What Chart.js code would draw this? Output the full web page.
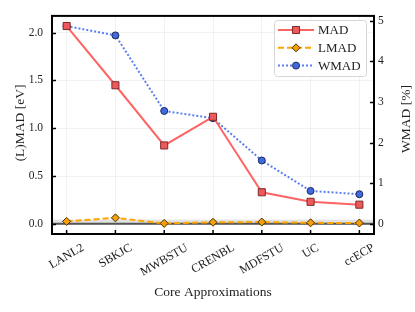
<!DOCTYPE html>
<html>
<head>
<meta charset="utf-8">
<script src="https://cdn.jsdelivr.net/npm/chart.js@4/dist/chart.umd.min.js"></script>
<style>
html, body { margin: 0; padding: 0; background: #fff; }
#wrap { width: 415px; height: 312px; }
</style>
</head>
<body>
<div id="wrap"><canvas id="chart" width="415" height="312"></canvas></div>
<script>
// Dati
const categories = ['LANL2', 'SBKJC', 'MWBSTU', 'CRENBL', 'MDFSTU', 'UC', 'ccECP'];
const madValues = [2.07, 1.45, 0.82, 1.12, 0.33, 0.23, 0.20];
const lmadValues = [0.025, 0.062, 0.004, 0.016, 0.018, 0.010, 0.008];
const wmadValues = [4.87, 4.64, 2.78, 2.60, 1.56, 0.81, 0.73];
const leftTicks = [0.0, 0.5, 1.0, 1.5, 2.0];
const rightTicks = [0, 1, 2, 3, 4, 5];
const chemAccBand = [0, 0.0434];

const FONT = '"Liberation Serif", "DejaVu Serif", serif';
const TICK_SIZE = 11.5;
const XTICK_SIZE = 12;
const TITLE_SIZE = 13.5;
const LEGEND_SIZE = 13;

Chart.defaults.font.family = FONT;
Chart.defaults.font.size = TICK_SIZE;
Chart.defaults.color = '#222';

const toXY = (arr) => arr.map((v, i) => ({ x: i, y: v }));

// Disegno cornice, tacche interne, banda, etichette e legenda
const decorPlugin = {
    id: 'decor',
    beforeDatasetsDraw(chart) {
        const { ctx, chartArea: a, scales } = chart;
        const y = scales.y;
        ctx.save();
        ctx.fillStyle = 'rgba(200,200,200,0.55)';
        const yTop = y.getPixelForValue(chemAccBand[1]);
        const yBot = y.getPixelForValue(chemAccBand[0]);
        ctx.fillRect(a.left, yTop, a.right - a.left, yBot - yTop + 1);
        ctx.strokeStyle = '#555';
        ctx.lineWidth = 2;
        ctx.beginPath();
        ctx.moveTo(a.left, yBot);
        ctx.lineTo(a.right, yBot);
        ctx.stroke();
        ctx.restore();
    },
    afterDraw(chart) {
        const { ctx, chartArea: a, scales } = chart;
        ctx.save();
        // tacche
        ctx.strokeStyle = '#000';
        ctx.lineWidth = 1.5;
        ctx.beginPath();
        leftTicks.forEach(v => {
            const p = Math.round(scales.y.getPixelForValue(v)) + 0.5;
            ctx.moveTo(a.left, p); ctx.lineTo(a.left + 4, p);
        });
        rightTicks.forEach(v => {
            const p = Math.round(scales.y1.getPixelForValue(v)) + 0.5;
            ctx.moveTo(a.right, p); ctx.lineTo(a.right - 4, p);
        });
        categories.forEach((c, i) => {
            const p = scales.x.getPixelForValue(i);
            ctx.moveTo(p, a.bottom); ctx.lineTo(p, a.bottom - 4);
        });
        ctx.stroke();
        // cornice
        ctx.lineWidth = 2;
        ctx.strokeRect(a.left, a.top, a.right - a.left, a.bottom - a.top);

        // etichette asse x ruotate
        ctx.fillStyle = '#222';
        ctx.font = `${XTICK_SIZE}px ${FONT}`;
        ctx.textAlign = 'center';
        ctx.textBaseline = 'middle';
        const ang = 30 * Math.PI / 180;
        categories.forEach((c, i) => {
            const w = ctx.measureText(c).width;
            const h = 9;
            const bh = w * Math.sin(ang) + h * Math.cos(ang);
            const px = scales.x.getPixelForValue(i);
            ctx.save();
            ctx.translate(px, a.bottom + 9 + bh / 2);
            ctx.rotate(-ang);
            ctx.fillText(c, 0, 0);
            ctx.restore();
        });

        // titoli assi
        ctx.font = `${TITLE_SIZE}px ${FONT}`;
        ctx.fillText('Core Approximations', (a.left + a.right) / 2, 292);
        const midY = (a.top + a.bottom) / 2;
        ctx.save();
        ctx.translate(20, midY - 2);
        ctx.rotate(-Math.PI / 2);
        ctx.fillText('(L)MAD [eV]', 0, 0);
        ctx.restore();
        ctx.save();
        ctx.translate(406, midY - 6);
        ctx.rotate(-Math.PI / 2);
        ctx.fillText('WMAD [%]', 0, 0);
        ctx.restore();

        // legenda
        ctx.font = `${LEGEND_SIZE}px ${FONT}`;
        const lx = 274.5, ly = 20.5, lw = 92, lh = 56;
        ctx.fillStyle = 'rgba(255,255,255,0.85)';
        ctx.strokeStyle = '#d6d6d6';
        ctx.lineWidth = 1;
        ctx.beginPath();
        ctx.roundRect(lx, ly, lw, lh, 3);
        ctx.fill();
        ctx.stroke();
        chart.data.datasets.forEach((ds, i) => {
            const ry = 30 + i * 17.8;
            ctx.save();
            ctx.strokeStyle = ds.borderColor;
            ctx.lineWidth = ds.borderWidth;
            ctx.setLineDash(ds.borderDash || []);
            ctx.beginPath();
            ctx.moveTo(278, ry); ctx.lineTo(314, ry);
            ctx.stroke();
            ctx.setLineDash([]);
            ctx.fillStyle = ds.pointBackgroundColor;
            ctx.strokeStyle = ds.pointBorderColor;
            ctx.lineWidth = ds.pointBorderWidth;
            Chart.helpers.drawPoint(ctx, {
                pointStyle: ds.pointStyle, radius: ds.pointRadius,
                borderWidth: ds.pointBorderWidth, rotation: 0
            }, 296, ry);
            ctx.restore();
            ctx.fillStyle = '#222';
            ctx.textAlign = 'left';
            ctx.fillText(ds.label, 318, ry + 0.5);
        });
        ctx.restore();
    }
};

const ctx = document.getElementById('chart').getContext('2d');
new Chart(ctx, {
    type: 'line',
    data: {
        datasets: [{
            label: 'MAD',
            data: toXY(madValues),
            yAxisID: 'y',
            borderColor: '#ff6464',
            borderWidth: 2,
            pointStyle: 'rect',
            pointRadius: 5,
            pointBackgroundColor: '#f0595b',
            pointBorderColor: '#7a2a2a',
            pointBorderWidth: 1
        }, {
            label: 'LMAD',
            data: toXY(lmadValues),
            yAxisID: 'y',
            borderColor: '#ffa500',
            borderWidth: 2,
            borderDash: [6, 3],
            pointStyle: 'rectRot',
            pointRadius: 4,
            pointBackgroundColor: '#f5a00a',
            pointBorderColor: '#4a3000',
            pointBorderWidth: 1
        }, {
            label: 'WMAD',
            data: toXY(wmadValues),
            yAxisID: 'y1',
            borderColor: '#5b7ff2',
            borderWidth: 2,
            borderDash: [2, 2],
            pointStyle: 'circle',
            pointRadius: 3.5,
            pointBackgroundColor: '#4169e1',
            pointBorderColor: '#1a2a5a',
            pointBorderWidth: 1
        }]
    },
    options: {
        responsive: false,
        animation: false,
        devicePixelRatio: 1,
        layout: { padding: { top: 14, left: 0, right: 0, bottom: 0 } },
        plugins: { legend: { display: false }, tooltip: { enabled: false } },
        elements: { line: { tension: 0 } },
        scales: {
            x: {
                type: 'linear',
                min: -0.3,
                max: 6.3,
                afterBuildTicks: (s) => { s.ticks = categories.map((c, i) => ({ value: i })); },
                afterFit: (s) => { s.height = 78; },
                ticks: { display: false },
                grid: { color: 'rgba(0,0,0,0.05)', lineWidth: 1, drawTicks: false },
                border: { display: false }
            },
            y: {
                position: 'left',
                min: -0.107,
                max: 2.176,
                afterBuildTicks: (s) => { s.ticks = leftTicks.map(v => ({ value: v })); },
                afterFit: (s) => { s.width = 52; },
                ticks: { padding: 9, callback: (v) => v.toFixed(1), color: '#222' },
                grid: { color: 'rgba(0,0,0,0.05)', lineWidth: 1, drawTicks: false },
                border: { display: false }
            },
            y1: {
                position: 'right',
                min: -0.25,
                max: 5.12,
                afterBuildTicks: (s) => { s.ticks = rightTicks.map(v => ({ value: v })); },
                afterFit: (s) => { s.width = 41; },
                ticks: { padding: 4, callback: (v) => String(v), color: '#222' },
                grid: { display: false, drawTicks: false },
                border: { display: false }
            }
        }
    },
    plugins: [decorPlugin]
});
</script>
</body>
</html>
